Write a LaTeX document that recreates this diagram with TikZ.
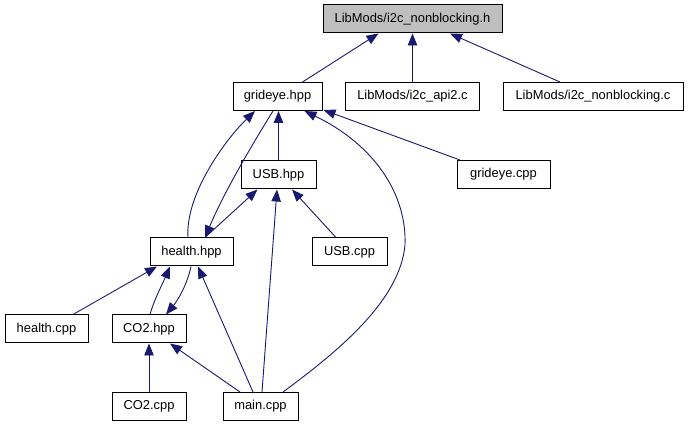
\documentclass[tikz,border=0pt]{standalone}
\usepackage{fontspec}
\setmainfont{Liberation Sans}
\usetikzlibrary{arrows.meta}
\definecolor{edgeblue}{HTML}{191970}
\definecolor{topgray}{HTML}{BFBFBF}
\begin{document}
\begin{tikzpicture}[x=1pt,y=-1pt,
  filebox/.style={draw=black,line width=1pt,fill=white,minimum height=28pt,inner sep=0pt,font=\fontsize{12.9}{15}\selectfont},
  edge/.style={draw=edgeblue,line width=0.9pt,-{Triangle[length=12pt,width=9.5pt]}}]
\useasboundingbox (0,0) rectangle (688,427);
\node[filebox,fill=topgray,minimum width=179pt] (h) at (412.5,19) {LibMods/i2c\_nonblocking.h};
\node[filebox,minimum width=89pt] (grideye) at (277.5,96.5) {grideye.hpp};
\node[filebox,minimum width=134pt] (api2) at (412.5,96.5) {LibMods/i2c\_api2.c};
\node[filebox,minimum width=180pt] (nbc) at (593,96.5) {LibMods/i2c\_nonblocking.c};
\node[filebox,minimum width=93pt] (gcpp) at (503.5,174.5) {grideye.cpp};
\node[filebox,minimum width=75pt] (usb) at (278.5,175) {USB.hpp};
\node[filebox,minimum width=83pt] (health) at (191.5,252) {health.hpp};
\node[filebox,minimum width=75pt] (usbcpp) at (349.5,252) {USB.cpp};
\node[filebox,minimum width=83pt] (hcpp) at (46.5,329) {health.cpp};
\node[filebox,minimum width=74pt] (co2) at (149,329) {CO2.hpp};
\node[filebox,minimum width=74pt] (co2cpp) at (149,406.5) {CO2.cpp};
\node[filebox,minimum width=75pt] (main) at (260.5,406.5) {main.cpp};
% edges
\draw[edge] ([xshift=25pt]grideye.north) -- ([xshift=-34pt]h.south);
\draw[edge] (api2.north) -- (h.south);
\draw[edge] ([xshift=-33pt]nbc.north) -- ([xshift=37.5pt]h.south);
\draw[edge] (usb.north) -- ([xshift=1pt]grideye.south);
\draw[edge] ([xshift=-43.5pt]gcpp.north) -- ([xshift=1pt,yshift=1pt]grideye.south east);
\draw[edge] ([xshift=-3.5pt]health.north) .. controls (185,195) and (225,140) .. ([xshift=-22.5pt]grideye.south);
\draw[edge] ([xshift=-4.5pt]grideye.south) .. controls (255,140) and (225,190) .. ([xshift=13.5pt]health.north);
\draw[edge] ([xshift=13.5pt]health.north) -- ([xshift=-21pt]usb.south);
\draw[edge] ([xshift=1.5pt]main.north) -- ([xshift=-1.5pt]usb.south);
\draw[edge] ([xshift=-13.5pt]usbcpp.north) -- ([xshift=13.5pt]usb.south);
\draw[edge] ([xshift=22.5pt]main.north) .. controls (340,350) and (400,300) .. (405,245) .. controls (407,195) and (375,145) .. ([xshift=27pt]grideye.south);
\draw[edge] ([xshift=26.5pt]hcpp.north) -- ([xshift=-34.5pt]health.south);
\draw[edge] ([xshift=1pt]co2.north) .. controls (154,300) and (162,285) .. ([xshift=-21.5pt]health.south);
\draw[edge] ([xshift=-0.5pt]health.south) .. controls (187,285) and (178,300) .. ([xshift=17pt]co2.north);
\draw[edge] ([xshift=-7.5pt]main.north) -- ([xshift=6.5pt]health.south);
\draw[edge] ([xshift=-20.5pt]main.north) -- ([xshift=21pt]co2.south);
\draw[edge] (co2cpp.north) -- (co2.south);
\end{tikzpicture}
\end{document}
